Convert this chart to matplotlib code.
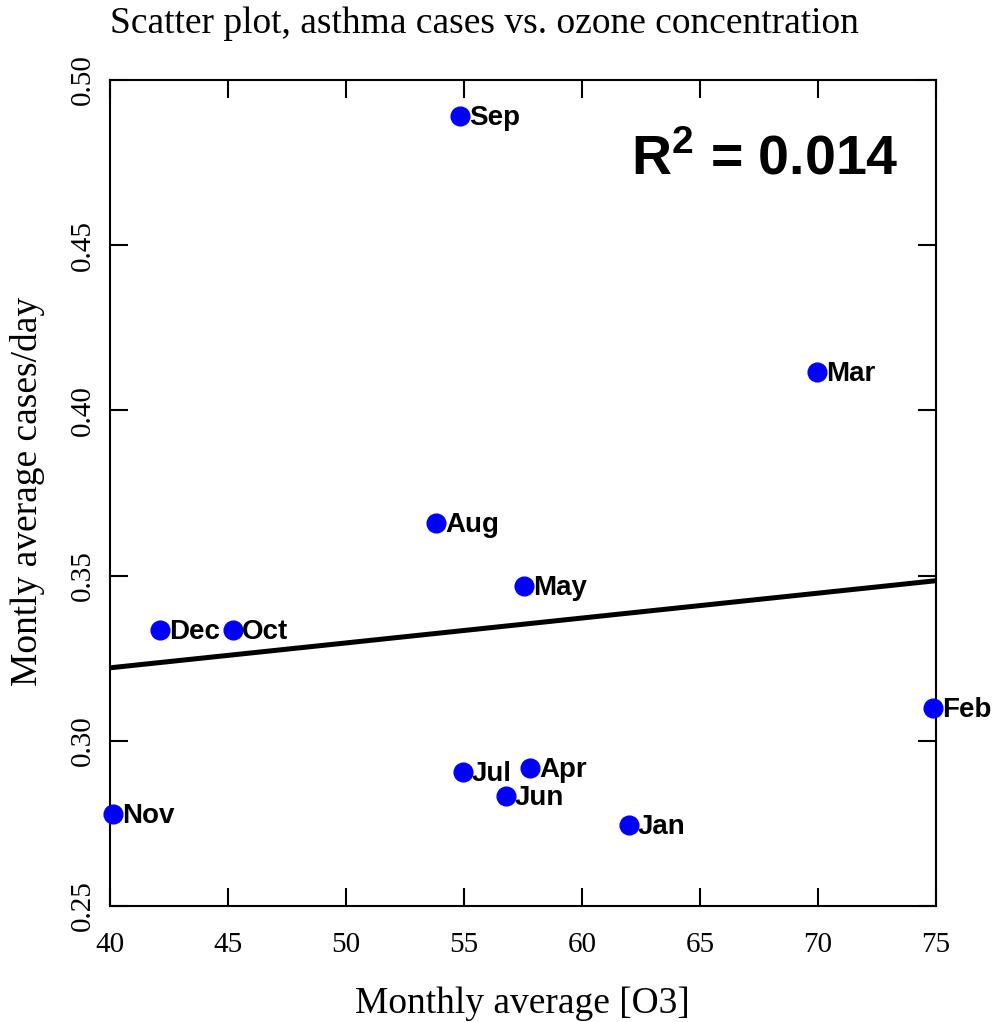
import matplotlib
matplotlib.use("Agg")
import matplotlib.pyplot as plt
import numpy as np

# monthly averages: ozone vs asthma cases per day
months = ["Jan", "Feb", "Mar", "Apr", "May", "Jun",
          "Jul", "Aug", "Sep", "Oct", "Nov", "Dec"]
ozone = [61.99, 74.87, 69.96, 57.80, 57.54, 56.78,
         54.96, 53.81, 54.83, 45.21, 40.13, 42.12]
cases = [0.2745, 0.3099, 0.4116, 0.2918, 0.3468, 0.2833,
         0.2906, 0.3659, 0.4890, 0.3335, 0.2778, 0.3335]
r2_text = "0.014"

xticks = [40, 45, 50, 55, 60, 65, 70, 75]
yticks = [0.25, 0.30, 0.35, 0.40, 0.45, 0.50]

serif = "Liberation Serif"
sans = "Liberation Sans"

plt.rcParams["mathtext.fontset"] = "custom"
plt.rcParams["mathtext.bf"] = "Liberation Sans:bold"
plt.rcParams["mathtext.rm"] = "Liberation Sans:bold"

fig = plt.figure(figsize=(9.95, 10.22), dpi=100)
ax = fig.add_axes([110 / 995, 1 - 906 / 1022, 826 / 995, 826 / 1022])

ax.plot(ozone, cases, "o", color="#0000ff", markersize=13.5, clip_on=False, zorder=3)
for m, x, y in zip(months, ozone, cases):
    ax.annotate(m, (x, y), xytext=(6.5, -1.5), textcoords="offset points",
                ha="left", va="center", fontsize=20, fontweight="bold",
                family=sans, annotation_clip=False)

# least squares fit line across the full x range
slope, intercept = np.polyfit(ozone, cases, 1)
xs = np.array([40, 75])
ax.plot(xs, intercept + slope * xs, color="black", lw=3.6, zorder=2)

ax.text(67.75, 0.4758, r"R$^{\mathbf{2}}$ = " + r2_text, ha="center", va="center",
        fontsize=40, fontweight="bold", family=sans)

ax.set_xlim(40, 75)
ax.set_ylim(0.25, 0.50)
ax.set_xticks(xticks)
ax.set_yticks(yticks)
ax.set_xticklabels([str(t) for t in xticks], family=serif, fontsize=21)
ax.set_yticklabels(["%.2f" % t for t in yticks], family=serif, fontsize=21,
                   rotation=90, va="center")
ax.tick_params(direction="in", length=13, width=1.5, top=True, right=True)
ax.tick_params(axis="x", pad=19)
ax.tick_params(axis="y", pad=10)
for s in ax.spines.values():
    s.set_linewidth(1.5)

fig.text(110 / 995, 1 - 33 / 1022, "Scatter plot, asthma cases vs. ozone concentration",
         family=serif, fontsize=27, ha="left", va="baseline")
fig.text(522 / 995, 1 - 1013 / 1022, "Monthly average [O3]",
         family=serif, fontsize=27, ha="center", va="baseline")
fig.text(37 / 995, 1 - 491 / 1022, "Montly average cases/day",
         family=serif, fontsize=27, ha="center", va="baseline", rotation=90,
         rotation_mode="anchor")

fig.savefig("out.png", dpi=100)
